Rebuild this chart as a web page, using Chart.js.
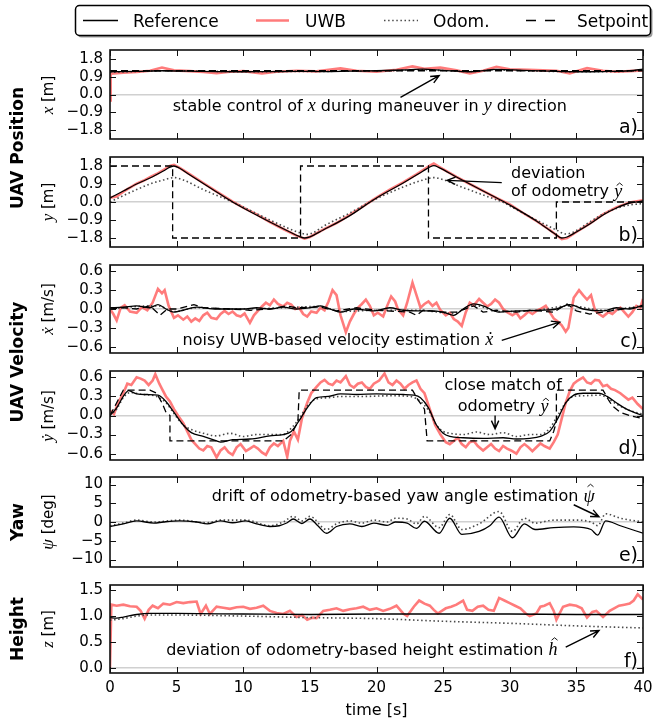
<!DOCTYPE html>
<html>
<head>
<meta charset="utf-8">
<script src="https://cdn.jsdelivr.net/npm/chart.js@4.4.1/dist/chart.umd.min.js"></script>
<style>
  body { margin: 0; background: #fff; }
  #wrap { position: relative; width: 654px; height: 721px; overflow: hidden; font-family: "DejaVu Sans", sans-serif; }
  #wrap canvas { position: absolute; left: 0; }
  .vlab { position: absolute; transform: translate(-50%, -50%) rotate(-90deg); white-space: nowrap; color: #000; }
  .grp { font: bold 17px "DejaVu Sans", sans-serif; }
  .ytl { font: 15px "DejaVu Sans", sans-serif; }
  .ytl i { font: italic 17px "Liberation Serif", "DejaVu Serif", serif; }
  #legend { position: absolute; left: 0; top: 0; }
</style>
</head>
<body>
<div id="wrap">
  <svg id="legend" width="654" height="42">
    <rect x="77.5" y="7.5" width="575" height="30" rx="4" fill="#9a9a9a"/>
    <rect x="75.5" y="5.5" width="575" height="30" rx="4" fill="#fff" stroke="#000" stroke-width="1.5"/>
    <line x1="83" y1="20.5" x2="118" y2="20.5" stroke="#000" stroke-width="1.3"/>
    <text x="133" y="21" dominant-baseline="central" font-family="DejaVu Sans" font-size="17">Reference</text>
    <line x1="256" y1="20.5" x2="289" y2="20.5" stroke="rgba(255,90,90,0.8)" stroke-width="2.6"/>
    <text x="305" y="21" dominant-baseline="central" font-family="DejaVu Sans" font-size="17">UWB</text>
    <line x1="384" y1="20.5" x2="418" y2="20.5" stroke="#4a4a4a" stroke-width="1.6" stroke-dasharray="1.5 2.6"/>
    <text x="433" y="21" dominant-baseline="central" font-family="DejaVu Sans" font-size="17">Odom.</text>
    <line x1="526" y1="20.5" x2="557" y2="20.5" stroke="#000" stroke-width="1.3" stroke-dasharray="10 9"/>
    <text x="577" y="21" dominant-baseline="central" font-family="DejaVu Sans" font-size="17">Setpoint</text>
  </svg>
</div>
<script>
/* --- data: time [s] / value pairs per series --- */

// a) x position [m]
const xRefT  = [0, 2, 4, 6, 8, 10, 12, 14, 16, 18, 20, 22, 23.5, 25, 27, 29, 31, 33, 35, 37, 39, 40];
const xRef   = [1.15, 1.17, 1.2, 1.18, 1.16, 1.15, 1.16, 1.17, 1.16, 1.18, 1.2, 1.24, 1.28, 1.22, 1.15, 1.27, 1.22, 1.18, 1.15, 1.16, 1.2, 1.28];
const xOdom  = [1.12, 1.16, 1.2, 1.19, 1.17, 1.15, 1.15, 1.17, 1.17, 1.18, 1.19, 1.22, 1.25, 1.21, 1.16, 1.24, 1.2, 1.17, 1.15, 1.15, 1.18, 1.24];
const xSetT  = [0, 40];
const xSet   = [1.2, 1.2];
const xUwbT  = [0, 0.05, 1, 2, 3, 3.9, 4.8, 6, 7, 8, 9, 10, 11.4, 12.5, 14, 15.5, 17.3, 18.5, 20, 21.5, 22.7, 23.6, 24.8, 26, 27, 28, 29, 30, 31.4, 32.5, 33.5, 34.5, 35.8, 37, 38, 39, 40];
const xUwb   = [-0.3, 1.05, 1.1, 1.14, 1.2, 1.36, 1.22, 1.18, 1.14, 1.08, 1.15, 1.18, 1.07, 1.15, 1.2, 1.17, 1.32, 1.2, 1.15, 1.25, 1.42, 1.3, 1.36, 1.22, 1.07, 1.2, 1.4, 1.28, 1.25, 1.22, 1.2, 1.07, 1.33, 1.2, 1.15, 1.18, 1.22];

// b) y position [m]
const yRefT  = [0, 1, 2, 3, 4, 4.5, 4.8, 5.2, 6, 8, 9.2, 10, 12, 13.5, 14.2, 14.6, 15, 16, 18, 19.3, 20, 22, 23.5, 24, 24.3, 24.7, 26, 28, 29.6, 30, 32, 33.4, 33.9, 34.3, 35, 36, 37, 38, 39, 40];
const yRef   = [0.2, 0.55, 0.9, 1.2, 1.55, 1.74, 1.8, 1.7, 1.35, 0.5, 0.0, -0.3, -1.0, -1.5, -1.72, -1.8, -1.74, -1.4, -0.68, -0.1, 0.2, 0.95, 1.55, 1.75, 1.82, 1.72, 1.25, 0.55, 0.0, -0.15, -0.95, -1.6, -1.8, -1.75, -1.5, -1.1, -0.65, -0.3, -0.05, 0.05];
const yUwbT  = [0, 0.5, 1, 1.5, 2, 2.5, 3, 3.5, 4, 4.5, 4.8, 5.2, 6, 7, 8, 9.2, 10, 11, 12, 13, 14, 14.6, 15, 16, 17, 18, 19.3, 20, 21, 22, 23, 23.5, 24, 24.3, 24.7, 26, 27, 28, 29, 30, 31, 32, 33, 33.5, 33.9, 34.3, 35, 36, 37, 38, 39, 40];
const yUwb   = [0.22, 0.28, 0.52, 0.72, 0.92, 1.06, 1.24, 1.4, 1.6, 1.8, 1.86, 1.72, 1.38, 0.95, 0.52, 0.02, -0.28, -0.62, -1.0, -1.35, -1.68, -1.83, -1.75, -1.38, -1.05, -0.64, -0.08, 0.22, 0.62, 0.98, 1.38, 1.6, 1.82, 1.92, 1.76, 1.26, 0.9, 0.56, 0.2, -0.12, -0.55, -0.95, -1.4, -1.65, -1.86, -1.8, -1.5, -1.08, -0.62, -0.27, -0.02, 0.08];
const yOdomT = [0, 1, 2, 3, 4, 4.8, 5.5, 7, 9.2, 10, 12, 13.5, 14.3, 14.8, 15.3, 16, 18, 19.5, 22, 23.5, 24.3, 25, 26, 28, 29.6, 30, 32, 33.5, 34.2, 34.8, 36, 37, 38, 39, 40];
const yOdom  = [0.0, 0.32, 0.62, 0.9, 1.1, 1.22, 1.1, 0.62, 0.0, -0.25, -0.9, -1.35, -1.55, -1.62, -1.52, -1.22, -0.55, 0.0, 0.75, 1.1, 1.22, 1.12, 0.85, 0.35, -0.05, -0.2, -0.9, -1.4, -1.6, -1.5, -1.0, -0.6, -0.32, -0.15, -0.08];
const ySetT  = [0, 4.7, 4.7, 14.3, 14.3, 23.9, 23.9, 33.5, 33.5, 40];
const ySet   = [1.8, 1.8, -1.8, -1.8, 1.8, 1.8, -1.8, -1.8, 0, 0];

// c) x velocity [m/s]
const vxRefT  = [0, 1, 2, 3, 3.6, 4.2, 4.8, 5.5, 6.5, 8, 10, 11, 12, 13, 14, 15, 15.8, 16.5, 17.3, 18.3, 19.8, 21, 22, 23, 24, 25, 25.8, 26.5, 27.3, 28, 29.2, 30.5, 32.3, 33.5, 34.5, 35.5, 37, 38, 39, 40];
const vxRef   = [0.02, 0.03, 0.05, 0.02, 0.07, 0.0, -0.05, -0.02, 0.03, 0.0, 0.0, 0.02, 0.0, 0.03, 0.0, 0.02, 0.05, 0.0, -0.05, 0.0, -0.03, 0.02, -0.02, -0.03, -0.03, -0.05, -0.1, 0.0, 0.08, 0.05, -0.05, -0.03, -0.02, 0.0, 0.07, 0.0, -0.03, 0.02, 0.0, 0.06];
const vxSetT  = [0, 1, 2, 3, 3.75, 4.3, 5, 6.3, 7, 9, 10.5, 12, 13.2, 14, 15.8, 17, 18.5, 20, 22.5, 23, 23.5, 25, 26, 27.3, 28, 29, 30.5, 31.5, 33.3, 34.3, 35, 36, 37, 38.5, 40];
const vxSet   = [0.0, 0.02, 0.0, 0.05, -0.1, 0.0, 0.0, 0.07, 0.02, 0.0, -0.02, 0.0, 0.05, 0.02, 0.03, -0.03, 0.02, -0.02, -0.05, -0.1, -0.02, -0.05, -0.05, 0.05, -0.05, -0.02, -0.05, -0.02, -0.05, 0.08, -0.03, -0.08, -0.05, 0.0, 0.04];
const vxOdomT = [0, 2, 3.6, 4.8, 6.5, 9, 12, 15.8, 17.3, 20, 23, 25.8, 27.3, 29.2, 32, 34.5, 37, 40];
const vxOdom  = [0.0, 0.04, 0.05, -0.04, 0.02, 0.0, 0.01, 0.04, -0.04, -0.02, -0.02, -0.07, 0.06, -0.04, -0.02, 0.05, -0.02, 0.05];
const vxUwbT  = [0, 0.25, 0.5, 0.8, 1.1, 1.5, 2.0, 2.4, 2.8, 3.2, 3.6, 3.9, 4.1, 4.4, 4.8, 5.1, 5.5, 5.8, 6.1, 6.4,
                 6.7, 7.0, 7.3, 7.6, 8.0, 8.3, 8.6, 8.9, 9.2, 9.5, 9.8, 10.1, 10.5, 10.8, 11.1, 11.4, 11.7, 12.0, 12.3, 12.6,
                 13.0, 13.3, 13.6, 13.9, 14.2, 14.5, 14.8, 15.1, 15.5, 15.8, 16.1, 16.4, 16.7, 17.0, 17.3, 17.7, 18.0, 18.3, 18.6, 18.9,
                 19.2, 19.5, 19.8, 20.1, 20.5, 20.8, 21.1, 21.4, 21.6, 22.0, 22.3, 22.7, 23.0, 23.3, 23.6, 23.9, 24.2, 24.5, 24.8, 25.2,
                 25.5, 25.8, 26.1, 26.4, 26.7, 27.0, 27.3, 27.7, 28.0, 28.3, 28.6, 28.9, 29.2, 29.5, 29.8, 30.2, 30.5, 30.8, 31.1, 31.4,
                 31.7, 32.0, 32.3, 32.7, 33.0, 33.3, 33.6, 33.9, 34.2, 34.4, 34.8, 35.2, 35.5, 35.8, 36.1, 36.4, 36.7, 37.0, 37.4, 37.7,
                 38.0, 38.3, 38.6, 38.9, 39.2, 39.5, 39.8, 40.0];
const vxUwb   = [0.0, -0.08, -0.18, 0.02, 0.06, -0.04, -0.06, 0.03, -0.02, 0.1, 0.32, 0.25, 0.3, 0.05, -0.14, -0.1, -0.17, -0.12, -0.2, -0.15,
                 -0.19, -0.1, -0.06, -0.14, -0.16, -0.08, -0.03, -0.08, -0.04, -0.1, -0.12, -0.07, -0.22, -0.1, -0.03, 0.04, 0.1, 0.06, 0.15, 0.08,
                 0.04, 0.1, 0.07, 0.0, 0.02, -0.08, -0.12, -0.04, -0.06, 0.02, -0.02, 0.12, 0.3, 0.22, -0.1, -0.37, -0.2, -0.08, 0.02, 0.08,
                 0.15, 0.05, -0.1, -0.06, -0.12, 0.05, 0.2, 0.12, 0.0, -0.1, 0.1, 0.42, 0.22, 0.02, 0.08, 0.12, 0.05, 0.1, -0.02, -0.1,
                 -0.06, -0.16, -0.2, -0.27, -0.05, 0.1, 0.06, 0.16, 0.1, 0.04, 0.08, 0.15, 0.1, 0.0, -0.05, -0.1, -0.06, -0.15, -0.1, -0.04,
                 -0.08, -0.03, 0.0, 0.05, -0.05, -0.15, -0.2, -0.26, -0.36, -0.3, 0.18, 0.3, 0.22, 0.15, 0.22, -0.02, -0.08, -0.12, -0.05, -0.08,
                 -0.02, 0.02, -0.05, -0.12, -0.05, 0.05, 0.02, 0.16];

// d) y velocity [m/s]
const vyRefT  = [0, 0.5, 1, 1.4, 2, 2.8, 3.6, 4.2, 4.8, 5.5, 6.1, 7, 8, 8.3, 9.2, 10.5, 12, 13, 13.6, 14.2, 14.8, 15.5, 16.4, 17.3, 18.5, 20, 22, 22.8, 23.3, 23.9, 24.5, 25, 25.5, 26.5, 28, 29.5, 30.5, 31.5, 32.3, 33, 33.6, 34.2, 34.8, 35.5, 36.7, 37.3, 38, 38.6, 39.2, 40];
const vyRef   = [0.0, 0.12, 0.3, 0.39, 0.34, 0.33, 0.32, 0.22, 0.05, -0.15, -0.27, -0.33, -0.4, -0.42, -0.38, -0.37, -0.32, -0.3, -0.25, -0.08, 0.12, 0.28, 0.3, 0.34, 0.33, 0.34, 0.33, 0.32, 0.28, 0.12, -0.15, -0.28, -0.33, -0.35, -0.36, -0.35, -0.37, -0.36, -0.33, -0.25, -0.05, 0.2, 0.32, 0.35, 0.35, 0.3, 0.2, 0.12, 0.06, 0.0];
const vySetT  = [0, 1, 3, 3.5, 3.9, 4.2, 4.5, 4.5, 13, 13.6, 14.1, 14.2, 22.7, 23.1, 23.6, 23.8, 33, 33.3, 33.5, 33.5, 37, 37.4, 37.7, 38.3, 39, 40];
const vySet   = [0.0, 0.4, 0.4, 0.35, 0.2, 0.05, 0.0, -0.4, -0.4, -0.3, -0.1, 0.4, 0.4, 0.25, 0.1, -0.4, -0.4, -0.25, -0.1, 0.4, 0.4, 0.25, 0.15, 0.05, 0.0, -0.05];
const vyOdomT = [0, 0.5, 1, 1.5, 2.5, 3.5, 4.2, 4.8, 5.5, 6.1, 7, 8, 9, 10, 11, 12, 13, 13.6, 14.2, 14.8, 15.5, 16.4, 17.3, 19, 21, 22.5, 23.3, 23.9, 24.5, 25, 25.5, 26.5, 27.5, 28.5, 29.5, 30.5, 31.5, 32.3, 33, 33.6, 34.2, 34.8, 35.5, 36.7, 37.3, 38, 39, 40];
const vyOdom  = [0.0, 0.1, 0.28, 0.36, 0.33, 0.3, 0.2, 0.03, -0.15, -0.22, -0.28, -0.32, -0.28, -0.33, -0.3, -0.3, -0.3, -0.2, -0.05, 0.15, 0.26, 0.28, 0.3, 0.3, 0.31, 0.3, 0.22, 0.08, -0.15, -0.25, -0.28, -0.3, -0.26, -0.3, -0.27, -0.33, -0.3, -0.3, -0.2, 0.0, 0.2, 0.3, 0.31, 0.32, 0.28, 0.18, 0.08, 0.02];
const vyUwbT  = [0, 0.3, 0.6, 1.0, 1.3, 1.6, 2.0, 2.3, 2.6, 2.9, 3.2, 3.4, 3.7, 3.9, 4.2, 4.5, 4.8, 5.1, 5.5, 5.8,
                 6.1, 6.4, 6.7, 7.0, 7.3, 7.6, 8.0, 8.3, 8.6, 8.9, 9.2, 9.5, 9.8, 10.2, 10.5, 10.8, 11.1, 11.4, 11.7, 12.0,
                 12.3, 12.6, 13.0, 13.3, 13.5, 13.8, 14.1, 14.4, 14.8, 15.1, 15.5, 15.8, 16.1, 16.4, 16.7, 17.0, 17.3, 17.7, 18.0, 18.3,
                 18.6, 18.9, 19.2, 19.5, 19.8, 20.2, 20.6, 20.9, 21.2, 21.5, 21.8, 22.1, 22.4, 22.7, 23.0, 23.3, 23.6, 24.0, 24.4, 24.8,
                 25.2, 25.5, 25.8, 26.1, 26.4, 26.7, 27.0, 27.3, 27.6, 28.0, 28.3, 28.6, 28.9, 29.2, 29.5, 29.8, 30.1, 30.5, 30.8, 31.1,
                 31.4, 31.7, 32.0, 32.3, 32.6, 33.0, 33.3, 33.6, 33.9, 34.2, 34.5, 34.8, 35.1, 35.5, 35.8, 36.1, 36.4, 36.7, 37.0, 37.3,
                 37.6, 37.9, 38.3, 38.6, 38.9, 39.2, 39.6, 40.0];
const vyUwb   = [0.08, 0.02, 0.2, 0.35, 0.5, 0.48, 0.6, 0.58, 0.55, 0.48, 0.55, 0.65, 0.5, 0.42, 0.3, 0.22, 0.1, 0.0, -0.12, -0.25,
                 -0.38, -0.45, -0.52, -0.55, -0.48, -0.5, -0.66, -0.55, -0.5, -0.58, -0.62, -0.5, -0.45, -0.56, -0.52, -0.48, -0.52, -0.58, -0.62, -0.5,
                 -0.44, -0.48, -0.4, -0.65, -0.4, -0.25, -0.38, -0.05, 0.2, 0.35, 0.45, 0.52, 0.56, 0.5, 0.48, 0.55, 0.52, 0.62, 0.48, 0.44,
                 0.5, 0.52, 0.45, 0.42, 0.5, 0.55, 0.66, 0.52, 0.48, 0.55, 0.5, 0.42, 0.48, 0.52, 0.55, 0.42, 0.35, 0.1, -0.15, -0.3,
                 -0.42, -0.45, -0.4, -0.35, -0.45, -0.5, -0.42, -0.4, -0.48, -0.55, -0.5, -0.45, -0.52, -0.56, -0.48, -0.52, -0.55, -0.6, -0.5, -0.45,
                 -0.5, -0.56, -0.5, -0.44, -0.48, -0.52, -0.42, -0.3, -0.05, 0.2, 0.38, 0.5, 0.55, 0.6, 0.52, 0.5, 0.56, 0.55, 0.46, 0.48,
                 0.42, 0.4, 0.35, 0.3, 0.25, 0.28, 0.18, 0.1];

// e) yaw [deg]
const yawRefT  = [0, 1, 2, 3.3, 4, 5.2, 6.5, 7.3, 8.3, 9.2, 10.2, 11, 12, 12.7, 13.3, 13.75, 14.4, 15, 15.6, 16.25, 17, 18, 18.9, 19.8, 20.8, 21.4, 22.3, 23, 23.6, 24.7, 25.5, 26.4, 27.7, 28.5, 29.2, 30.2, 31.1, 31.9, 33.3, 34.8, 36.1, 36.6, 37.2, 38.3, 40];
const yawRef   = [-1.2, -0.5, 0.3, -0.3, 0.0, 0.3, 0.0, -0.5, 0.3, -0.2, 0.3, -0.5, -1.2, -1.0, -0.2, 0.8, -0.4, 0.8, -1.0, -3.0, -1.2, -0.5, -1.2, -0.3, -0.9, 0.0, -0.3, -1.7, 0.2, -3.0, 1.0, -3.3, -2.5, -1.0, 1.3, -4.2, -0.5, -2.0, -1.5, -1.3, -2.0, -3.5, 0.3, -1.0, -3.0];
const yawOdomT = [0, 1, 2, 3.3, 5.2, 7.3, 8.3, 10.2, 12, 13, 13.75, 14.4, 15, 16.25, 17, 18, 18.9, 19.8, 20.8, 21.4, 22.3, 23, 23.6, 24.7, 25.5, 26.4, 27.7, 29.2, 30.2, 31.1, 31.9, 33.3, 34.8, 36.1, 36.6, 37.2, 38.3, 40];
const yawOdom  = [-1.0, -0.3, 0.5, 0.0, 0.5, -0.2, 0.5, 0.5, -1.0, 0.0, 1.5, 0.3, 1.5, -2.0, -0.5, 0.3, -0.3, 0.5, 0.0, 1.0, 0.8, -0.5, 1.5, -1.5, 2.0, -2.0, -0.5, 2.8, -2.5, 1.0, -0.3, 0.5, 0.5, 0.0, -1.0, 2.2, 1.0, 0.0];

// f) height [m]
const zRefT  = [0, 0.5, 1, 2, 3, 5, 10, 15, 20, 25, 30, 35, 40];
const zRef   = [0.97, 0.96, 0.98, 1.03, 1.05, 1.05, 1.04, 1.03, 1.04, 1.04, 1.04, 1.03, 1.03];
const zOdomT = [0, 1, 2, 3, 5, 10, 15, 20, 25, 30, 35, 40];
const zOdom  = [0.92, 0.95, 1.0, 1.02, 1.02, 1.0, 0.97, 0.95, 0.9, 0.86, 0.81, 0.77];
const zUwbT  = [0, 0.1, 0.5, 1, 1.5, 2, 2.3, 2.6, 2.9, 3.2, 3.6, 4, 4.5, 5, 5.5, 6, 6.5, 6.8, 7.2, 7.5,
                8, 8.5, 9, 9.5, 10, 10.5, 11, 11.5, 12, 12.5, 13, 13.5, 14, 14.4, 14.8, 15.2, 15.5, 16, 16.5, 17,
                17.5, 18, 18.5, 19, 19.5, 20, 20.5, 21, 21.5, 22, 22.3, 22.8, 23.2, 23.6, 24, 24.3, 24.6, 25.2, 25.6, 26,
                26.5, 26.8, 27.2, 27.6, 28, 28.4, 28.8, 29.2, 29.6, 30, 30.4, 30.8, 31.2, 31.5, 32, 32.3, 32.6, 33, 33.3, 33.5,
                34, 34.5, 35, 35.4, 35.8, 36.2, 36.5, 37, 37.5, 38.2, 38.6, 39, 39.3, 39.6, 40];
const zUwb   = [0.0, 1.22, 1.2, 1.22, 1.19, 1.18, 1.1, 0.95, 1.12, 1.2, 1.15, 1.24, 1.22, 1.27, 1.25, 1.27, 1.28, 1.04, 1.2, 1.04,
                1.18, 1.16, 1.14, 1.17, 1.18, 1.14, 1.16, 1.2, 1.1, 1.06, 1.04, 1.1, 0.98, 1.02, 0.93, 0.97, 0.96, 1.1, 1.12, 1.15,
                1.1, 1.13, 1.15, 1.18, 1.12, 1.15, 1.1, 1.14, 1.2, 1.05, 1.0, 1.18, 1.3, 1.24, 1.2, 1.12, 1.05, 1.15, 1.18, 1.22,
                1.3, 1.12, 1.1, 1.18, 1.2, 1.12, 1.1, 1.35, 1.3, 1.25, 1.2, 1.15, 1.05, 1.0, 1.05, 1.18, 1.2, 1.25, 1.1, 0.93,
                1.18, 1.22, 1.2, 1.15, 0.97, 1.08, 1.1, 0.98, 1.1, 1.2, 1.22, 1.24, 1.3, 1.42, 1.32];

const timeTicks = [0, 5, 10, 15, 20, 25, 30, 35, 40];

/* --- styling --- */
const W = 654, PLOT_L = 110, PLOT_R = 643;
const TEXT_FONT = '16px "DejaVu Sans"';
const MATH_FONT = 'italic 18px "Liberation Serif", "DejaVu Serif"';

const STYLE = {
  uwb:  { borderColor: 'rgba(255,90,90,0.8)', borderWidth: 2.6, order: 3 },
  odom: { borderColor: '#4a4a4a', borderWidth: 1.6, borderDash: [1.5, 2.6], order: 2, cubicInterpolationMode: 'monotone' },
  ref:  { borderColor: '#000', borderWidth: 1.3, order: 1, cubicInterpolationMode: 'monotone' },
  set:  { borderColor: '#000', borderWidth: 1.3, borderDash: [7, 4], order: 0 }
};

function pts(ts, vs) { return ts.map((t, i) => ({ x: t, y: vs[i] })); }

// part flags: 0 = plain text, 1 = math italic, 2 = math italic with a hat (short glyph), 3 = hat over a tall glyph
const panels = [
  { letter: 'a)', top: 50, bottom: 139, min: -2.25, max: 2.25, ticks: [-1.8, -0.9, 0, 0.9, 1.8], dec: 1,
    group: 'UAV Position', groupY: 148, title: '<i>x</i> [m]',
    series: [['uwb', xUwbT, xUwb], ['odom', xRefT, xOdom], ['ref', xRefT, xRef], ['set', xSetT, xSet]],
    notes: [{ t: 19.5, v: -0.6, align: 'center', parts: [['stable control of ', 0], ['x', 1], [' during maneuver in ', 0], ['y', 1], [' direction', 0]] }],
    arrows: [{ from: [21.8, -0.15], to: [24.7, 0.95] }] },
  { letter: 'b)', top: 157, bottom: 247, min: -2.25, max: 2.25, ticks: [-1.8, -0.9, 0, 0.9, 1.8], dec: 1,
    title: '<i>y</i> [m]',
    series: [['uwb', yUwbT, yUwb], ['odom', yOdomT, yOdom], ['ref', yRefT, yRef], ['set', ySetT, ySet]],
    notes: [{ t: 30.1, v: 1.42, align: 'left', parts: [['deviation', 0]] },
            { t: 30.1, v: 0.5, align: 'left', parts: [['of odometry ', 0], ['y', 2]] }],
    arrows: [{ from: [29.4, 0.97], to: [25.3, 1.08] }] },
  { letter: 'c)', top: 265, bottom: 353, min: -0.7, max: 0.7, ticks: [-0.6, -0.3, 0, 0.3, 0.6], dec: 1,
    group: 'UAV Velocity', groupY: 362, title: '<i>\u1E8B</i> [m/s]',
    series: [['uwb', vxUwbT, vxUwb], ['odom', vxOdomT, vxOdom], ['ref', vxRefT, vxRef], ['set', vxSetT, vxSet]],
    notes: [{ t: 17.1, v: -0.5, align: 'center', parts: [['noisy UWB-based velocity estimation ', 0], ['\u1E8B', 1]] }],
    arrows: [{ from: [29.4, -0.5], to: [33.75, -0.21] }] },
  { letter: 'd)', top: 371, bottom: 460, min: -0.7, max: 0.7, ticks: [-0.6, -0.3, 0, 0.3, 0.6], dec: 1,
    title: '<i>\u1E8F</i> [m/s]',
    series: [['uwb', vyUwbT, vyUwb], ['odom', vyOdomT, vyOdom], ['ref', vyRefT, vyRef], ['set', vySetT, vySet]],
    notes: [{ t: 29.5, v: 0.47, align: 'center', parts: [['close match of', 0]] },
            { t: 29.5, v: 0.13, align: 'center', parts: [['odometry ', 0], ['y', 2]] }],
    arrows: [{ from: [28.9, 0.0], to: [28.9, -0.21] }] },
  { letter: 'e)', top: 477, bottom: 567, min: -12, max: 12, ticks: [-10, -5, 0, 5, 10], dec: 0,
    group: 'Yaw', groupY: 522, title: '<i>\u03C8</i> [deg]',
    series: [['odom', yawOdomT, yawOdom], ['ref', yawRefT, yawRef]],
    notes: [{ t: 22.0, v: 6.6, align: 'center', parts: [['drift of odometry-based yaw angle estimation ', 0], ['\u03C8', 3]] }],
    arrows: [{ from: [34.8, 4.6], to: [36.7, 1.4] }] },
  { letter: 'f)', top: 585, bottom: 673, min: -0.1, max: 1.6, ticks: [0, 0.5, 1.0, 1.5], dec: 1, last: true,
    group: 'Height', groupY: 629, title: '<i>z</i> [m]',
    series: [['uwb', zUwbT, zUwb], ['odom', zOdomT, zOdom], ['ref', zRefT, zRef]],
    notes: [{ t: 18.9, v: 0.33, align: 'center', parts: [['deviation of odometry-based height estimation ', 0], ['h', 3]] }],
    arrows: [{ from: [34.2, 0.4], to: [36.7, 0.72] }] }
];

/* --- drawing helpers --- */
function drawRich(ctx, parts, x, y, align) {
  const widths = parts.map(([s, m]) => { ctx.font = m ? MATH_FONT : TEXT_FONT; return ctx.measureText(s).width; });
  const total = widths.reduce((a, b) => a + b, 0);
  let cx = align === 'center' ? x - total / 2 : x;
  ctx.textAlign = 'left';
  ctx.textBaseline = 'middle';
  parts.forEach(([s, m], i) => {
    ctx.font = m ? MATH_FONT : TEXT_FONT;
    ctx.fillText(s, cx, y);
    if (m >= 2) {
      // small circumflex above the glyph
      const hx = cx + widths[i] / 2 + 1.5, hy = y - (m === 3 ? 13 : 9);
      ctx.save();
      ctx.lineWidth = 0.9;
      ctx.strokeStyle = '#000';
      ctx.beginPath();
      ctx.moveTo(hx - 3, hy + 2.5); ctx.lineTo(hx, hy); ctx.lineTo(hx + 3, hy + 2.5);
      ctx.stroke();
      ctx.restore();
    }
    cx += widths[i];
  });
}

function drawArrow(ctx, x1, y1, x2, y2) {
  const ang = Math.atan2(y2 - y1, x2 - x1);
  const L = 9, spread = 0.42;
  ctx.beginPath();
  ctx.moveTo(x1, y1); ctx.lineTo(x2, y2);
  ctx.moveTo(x2 - L * Math.cos(ang - spread), y2 - L * Math.sin(ang - spread));
  ctx.lineTo(x2, y2);
  ctx.lineTo(x2 - L * Math.cos(ang + spread), y2 - L * Math.sin(ang + spread));
  ctx.stroke();
}

function decoFor(p) {
  return {
    id: 'deco',
    afterDatasetsDraw(chart) {
      const { ctx, chartArea: a } = chart;
      const xs = chart.scales.x, ys = chart.scales.y;
      ctx.save();
      // inward ticks on all four sides
      ctx.strokeStyle = '#111';
      ctx.lineWidth = 1;
      ctx.beginPath();
      xs.ticks.forEach(tk => {
        const px = Math.round(xs.getPixelForValue(tk.value)) + 0.5;
        ctx.moveTo(px, a.bottom); ctx.lineTo(px, a.bottom - 6);
        ctx.moveTo(px, a.top); ctx.lineTo(px, a.top + 6);
      });
      ys.ticks.forEach(tk => {
        const py = Math.round(ys.getPixelForValue(tk.value)) + 0.5;
        ctx.moveTo(a.left, py); ctx.lineTo(a.left + 6, py);
        ctx.moveTo(a.right, py); ctx.lineTo(a.right - 6, py);
      });
      ctx.stroke();
      ctx.lineWidth = 1.6;
      ctx.strokeRect(a.left, a.top, a.right - a.left, a.bottom - a.top);

      // panel letter
      ctx.fillStyle = '#000';
      ctx.font = '19px "DejaVu Sans"';
      ctx.textAlign = 'right';
      ctx.textBaseline = 'alphabetic';
      ctx.fillText(p.letter, a.right - 5, a.bottom - 6);

      // annotations
      p.notes.forEach(n => drawRich(ctx, n.parts, xs.getPixelForValue(n.t), ys.getPixelForValue(n.v), n.align));
      ctx.lineWidth = 1.4;
      ctx.strokeStyle = '#000';
      p.arrows.forEach(ar => drawArrow(ctx,
        xs.getPixelForValue(ar.from[0]), ys.getPixelForValue(ar.from[1]),
        xs.getPixelForValue(ar.to[0]), ys.getPixelForValue(ar.to[1])));
      ctx.restore();
    }
  };
}

function fmt(v, dec) { return v.toFixed(dec).replace('-', '\u2212'); }

function addLabel(html, cx, cy, cls) {
  const d = document.createElement('div');
  d.className = 'vlab ' + cls;
  d.innerHTML = html;
  d.style.left = cx + 'px';
  d.style.top = cy + 'px';
  document.getElementById('wrap').appendChild(d);
}

/* --- build one chart per panel --- */
function makePanel(p) {
  const wrap = document.getElementById('wrap');
  const canvas = document.createElement('canvas');
  const top = p.top - 10;
  const axisH = p.last ? 48 : 10;
  canvas.width = W;
  canvas.height = p.bottom - top + axisH;
  canvas.style.top = top + 'px';
  wrap.insertBefore(canvas, wrap.firstChild);

  const datasets = p.series.map(([kind, ts, vs]) => Object.assign({
    data: pts(ts, vs), pointRadius: 0, fill: false, tension: 0
  }, STYLE[kind]));

  new Chart(canvas, {
    type: 'line',
    data: { datasets },
    options: {
      responsive: false,
      animation: false,
      events: [],
      layout: { padding: { top: 10, right: W - PLOT_R, left: 0, bottom: 0 } },
      plugins: { legend: { display: false }, tooltip: { enabled: false } },
      scales: {
        x: {
          type: 'linear', min: 0, max: 40,
          afterBuildTicks: ax => { ax.ticks = timeTicks.map(v => ({ value: v })); },
          afterFit: ax => { ax.height = axisH; ax.paddingLeft = 0; ax.paddingRight = 0; },
          grid: { display: false, drawTicks: false },
          border: { display: false },
          ticks: { display: !!p.last, padding: 6, color: '#000', font: { family: 'DejaVu Sans', size: 15 }, maxRotation: 0, autoSkip: false },
          title: { display: !!p.last, text: 'time [s]', color: '#000', font: { family: 'DejaVu Sans', size: 16 }, padding: { top: 0, bottom: 1 } }
        },
        y: {
          min: p.min, max: p.max,
          afterBuildTicks: ax => { ax.ticks = p.ticks.map(v => ({ value: v })); },
          afterFit: ax => { ax.width = PLOT_L; ax.paddingTop = 0; ax.paddingBottom = 0; },
          grid: {
            drawTicks: false,
            color: c => (c.tick && c.tick.value === 0) ? '#d0d0d0' : 'rgba(0,0,0,0)',
            lineWidth: 1.5
          },
          border: { display: false },
          ticks: { padding: 7, color: '#000', autoSkip: false, font: { family: 'DejaVu Sans', size: 15 }, callback: v => fmt(v, p.dec) }
        }
      }
    },
    plugins: [decoFor(p)]
  });

  addLabel(p.title, 48, (p.top + p.bottom) / 2, 'ytl');
  if (p.group) addLabel(p.group, 17, p.groupY, 'grp');
}

panels.forEach(makePanel);
</script>
</body>
</html>
